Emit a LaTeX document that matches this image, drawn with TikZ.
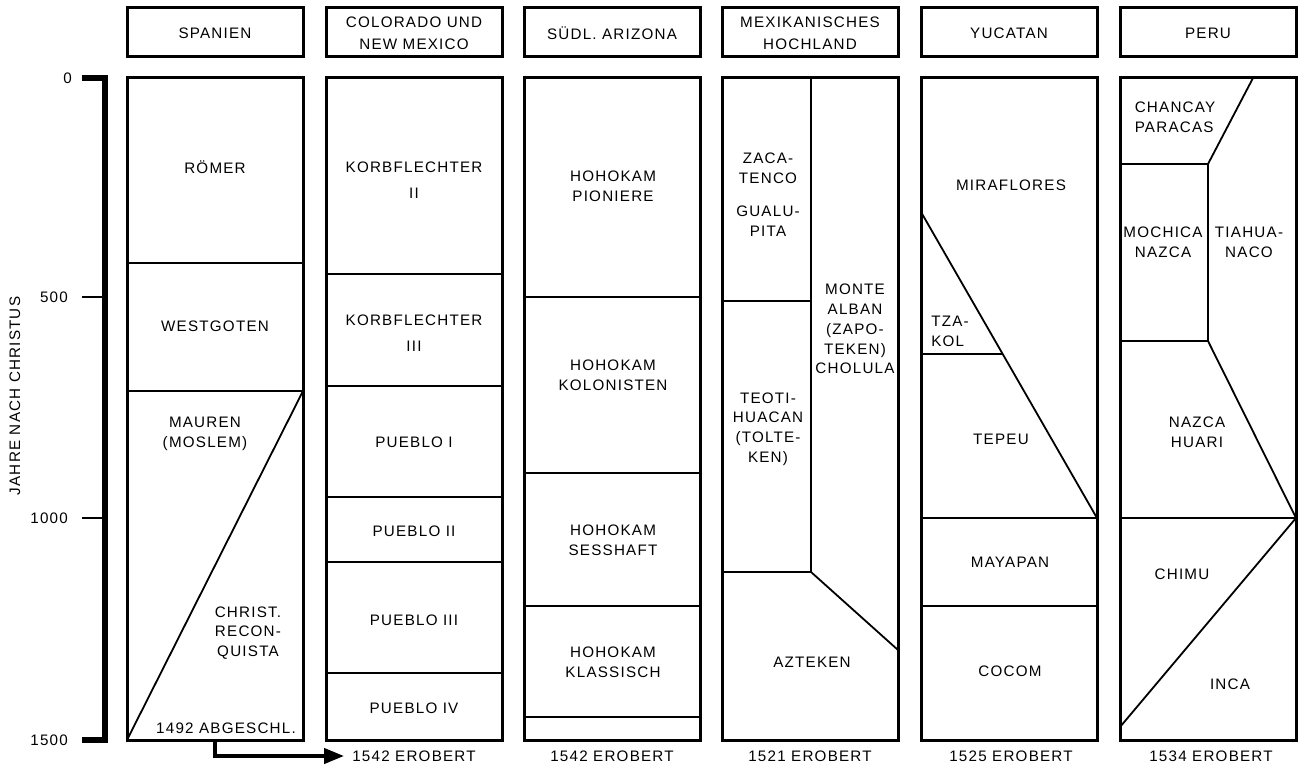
\documentclass[tikz,border=0pt]{standalone}
\usepackage{fontspec}
\setmainfont{Liberation Sans}[LetterSpace=8]
\usetikzlibrary{arrows.meta}
\begin{document}
\begin{tikzpicture}[x=1pt,y=-1pt,
  box/.style={line width=3pt},
  part/.style={line width=1.8pt},
  lbl/.style={align=center,inner sep=0pt,font=\fontsize{15.2}{19.8}\selectfont}]
\useasboundingbox (0,0) rectangle (1298,765);
\foreach \x/\name [count=\i] in {127/SPANIEN,326/{COLORADO UND\\[2pt]NEW MEXICO},
  524/SÜDL. ARIZONA,722/{MEXIKANISCHES\\[2pt]HOCHLAND},921/YUCATAN,1120/PERU}{
  \draw[box] (\x,8) rectangle ++(176,49);
  \node[lbl] (head\i) at (\x+88,33) {\name};
  \draw[box] (\x,78) rectangle ++(176,662);
}
\node[lbl] (end2) at (414,756) {1542 EROBERT};
\node[lbl] (end3) at (612,756) {1542 EROBERT};
\node[lbl] (end4) at (810,756) {1521 EROBERT};
\node[lbl] (end5) at (1011,756) {1525 EROBERT};
\node[lbl] (end6) at (1211,756) {1534 EROBERT};
\draw[line width=6pt] (82,78) -- (105,78) -- (105,740) -- (82,740);
\draw[line width=2pt] (82,297) -- (105,297);
\draw[line width=2pt] (82,518) -- (105,518);
\node[lbl,anchor=east] (t0) at (72,78) {0};
\node[lbl,anchor=east] (t500) at (68,297) {500};
\node[lbl,anchor=east] (t1000) at (68,518) {1000};
\node[lbl,anchor=east] (t1500) at (68,740) {1500};
\node[lbl,rotate=90] (jahre) at (15,396) {JAHRE NACH CHRISTUS};
% Spanien
\draw[part] (127,263) -- (303,263);
\draw[part] (127,391) -- (303,391) -- (127,740);
\node[lbl] (roemer) at (215,167) {RÖMER};
\node[lbl] (goten) at (215,326) {WESTGOTEN};
\node[lbl] (mauren) at (205,434) {MAUREN\\(MOSLEM)};
\node[lbl] (reconq) at (248,633) {CHRIST.\\RECON-\\QUISTA};
\node[lbl] (abg) at (226,728) {1492 ABGESCHL.};
\coordinate (abgfoot) at (215,740);
\draw[line width=4pt,-{Triangle[length=20pt,width=15pt]}] (abgfoot) |- ([xshift=-8pt]end2.west);
% Colorado und New Mexico
\foreach \y in {274,386,497,562,673} \draw[part] (326,\y) -- (502,\y);
\node[lbl] (korb2) at (414,180) {KORBFLECHTER\\[6pt]II};
\node[lbl] (korb3) at (414,333) {KORBFLECHTER\\[6pt]III};
\node[lbl] (pue1) at (414,442) {PUEBLO I};
\node[lbl] (pue2) at (414,531) {PUEBLO II};
\node[lbl] (pue3) at (414,620) {PUEBLO III};
\node[lbl] (pue4) at (414,708) {PUEBLO IV};
% Suedl. Arizona
\foreach \y in {297,473,606,717} \draw[part] (524,\y) -- (700,\y);
\node[lbl] (hoho1) at (613,186) {HOHOKAM\\PIONIERE};
\node[lbl] (hoho2) at (613,375) {HOHOKAM\\KOLONISTEN};
\node[lbl] (hoho3) at (613,540) {HOHOKAM\\SESSHAFT};
\node[lbl] (hoho4) at (613,662) {HOHOKAM\\KLASSISCH};
% Mexikanisches Hochland
\draw[part] (811,78) -- (811,572) -- (898,650);
\draw[part] (722,301) -- (811,301);
\draw[part] (722,572) -- (811,572);
\node[lbl] (zaca) at (768,168) {ZACA-\\TENCO};
\node[lbl] (gualu) at (768,221) {GUALU-\\PITA};
\node[lbl] (monte) at (855,329) {MONTE\\ALBAN\\(ZAPO-\\TEKEN)\\CHOLULA};
\node[lbl] (teoti) at (768,429) {TEOTI-\\HUACAN\\(TOLTE-\\KEN)};
\node[lbl] (azt) at (812,662) {AZTEKEN};
% Yucatan
\draw[part] (921,212) -- (1097,518);
\draw[part] (921,354) -- (1003,354);
\draw[part] (921,518) -- (1097,518);
\draw[part] (921,606) -- (1097,606);
\node[lbl] (mira) at (1011,185) {MIRAFLORES};
\node[lbl,align=left] (tzakol) at (950,331) {TZA-\\KOL};
\node[lbl] (tepeu) at (1001,439) {TEPEU};
\node[lbl] (maya) at (1010,562) {MAYAPAN};
\node[lbl] (cocom) at (1010,671) {COCOM};
% Peru
\draw[part] (1253,78) -- (1208,164) -- (1208,341) -- (1296,518) -- (1120,727);
\draw[part] (1120,164) -- (1208,164);
\draw[part] (1120,341) -- (1208,341);
\draw[part] (1120,518) -- (1296,518);
\node[lbl,align=left] (chancay) at (1175,117) {CHANCAY\\PARACAS};
\node[lbl] (mochica) at (1163,242) {MOCHICA\\NAZCA};
\node[lbl] (tiahua) at (1249,242) {TIAHUA-\\NACO};
\node[lbl] (huari) at (1197,432) {NAZCA\\HUARI};
\node[lbl] (chimu) at (1182,574) {CHIMU};
\node[lbl] (inca) at (1230,684) {INCA};
\end{tikzpicture}
\end{document}
